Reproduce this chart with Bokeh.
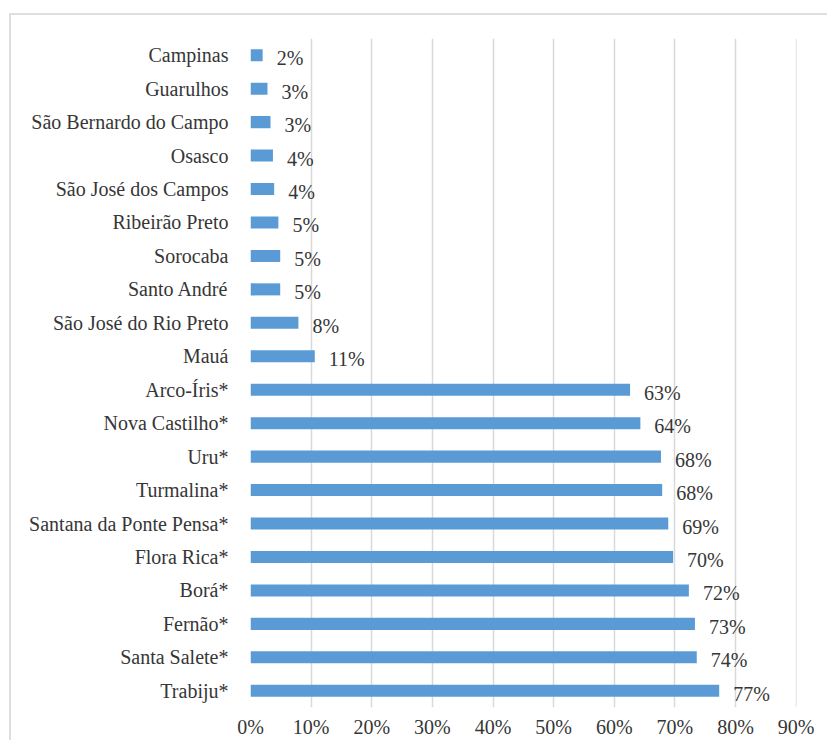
from bokeh.plotting import figure
from bokeh.models import Range1d, FactorRange, FixedTicker, ColumnDataSource
from bokeh.core.properties import value
from bokeh.embed import file_html
from bokeh.resources import INLINE

cities = ["Campinas", "Guarulhos", "São Bernardo do Campo", "Osasco", "São José dos Campos",
          "Ribeirão Preto", "Sorocaba", "Santo André", "São José do Rio Preto", "Mauá",
          "Arco-Íris*", "Nova Castilho*", "Uru*", "Turmalina*", "Santana da Ponte Pensa*",
          "Flora Rica*", "Borá*", "Fernão*", "Santa Salete*", "Trabiju*"]
shares = [2.0, 2.8, 3.3, 3.7, 3.9, 4.6, 4.9, 4.9, 7.9, 10.6,
          62.6, 64.3, 67.7, 67.9, 68.9, 69.7, 72.3, 73.3, 73.6, 77.3]
x_ticks = [0, 10, 20, 30, 40, 50, 60, 70, 80, 90]

labels = [f"{round(v)}%" for v in shares]
src = ColumnDataSource(dict(city=cities, share=shares, label=labels))

FONT = "Liberation Serif"
TXT = "#363636"

p = figure(width=816, height=724, frame_width=546, frame_height=669,
           output_backend="svg", toolbar_location=None,
           y_range=FactorRange(factors=list(reversed(cities)), range_padding=0),
           x_range=Range1d(0, 90.05),
           min_border_left=239, min_border_right=31, min_border_top=23, min_border_bottom=32)
p.styles = {"margin-top": "13px", "margin-left": "9px",
            "border-top": "2px solid #dedede", "border-left": "2px solid #dedede"}

p.hbar(y="city", left=0, right="share", height=0.36, source=src,
       fill_color="#5B9BD5", line_color=None)
p.text(x="share", y="city", text="label", source=src, x_offset=14, y_offset=3,
       text_baseline="middle", text_align="left", text_font=value(FONT),
       text_font_size="20px", text_color=TXT)

p.outline_line_color = None
p.background_fill_color = "white"
p.border_fill_color = "white"

p.xaxis.ticker = FixedTicker(ticks=x_ticks)
p.xaxis.major_label_overrides = {t: f"{t}%" for t in x_ticks}
p.xaxis.axis_line_color = None
p.xaxis.major_tick_line_color = None
p.xaxis.minor_tick_line_color = None
p.xaxis.major_label_standoff = 2
p.xaxis.major_label_text_font = FONT
p.xaxis.major_label_text_font_size = "20px"
p.xaxis.major_label_text_color = TXT

p.yaxis.axis_line_color = None
p.yaxis.major_tick_line_color = None
p.yaxis.minor_tick_line_color = None
p.yaxis.major_label_standoff = 16
p.yaxis.major_label_text_font = FONT
p.yaxis.major_label_text_font_size = "20px"
p.yaxis.major_label_text_color = TXT

p.xgrid.grid_line_color = "#d9d9d9"
p.xgrid.grid_line_width = 1.5
p.ygrid.grid_line_color = None

open("out.html", "w").write(file_html(p, INLINE))
